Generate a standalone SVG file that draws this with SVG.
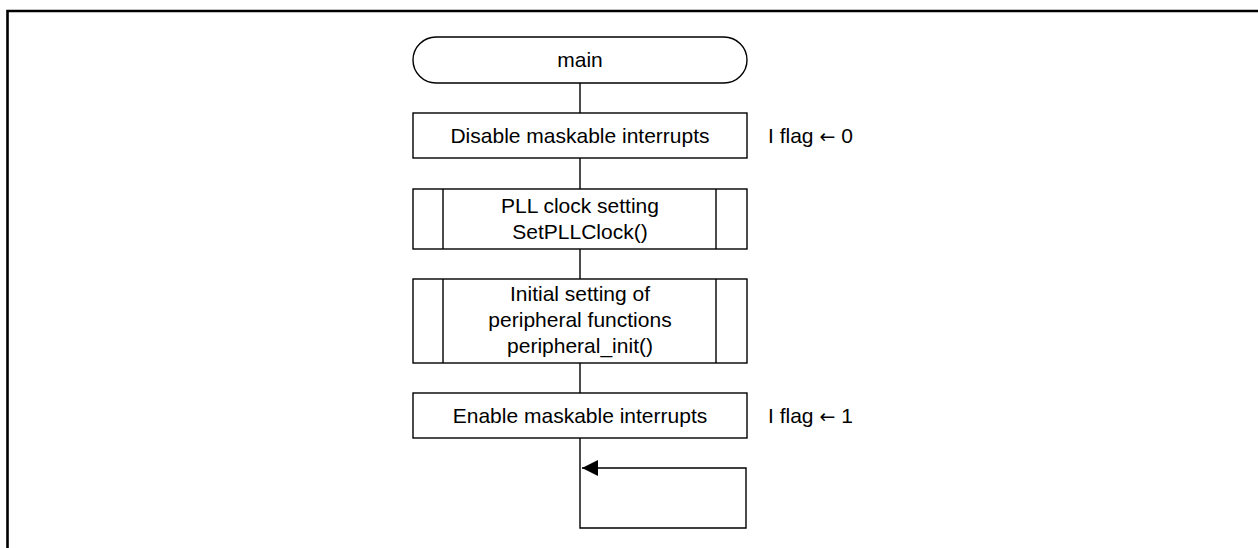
<svg xmlns="http://www.w3.org/2000/svg" width="1258" height="548" viewBox="0 0 1258 548">
<style>
.frame{fill:none;stroke:#000;stroke-width:2.6}
.box{fill:#fff;stroke:#000;stroke-width:1.4}
.ln{fill:none;stroke:#000;stroke-width:1.4}
text{font-family:"Liberation Sans",Arial,sans-serif;font-size:21px;fill:#000}
.c{text-anchor:middle}
.ar{font-family:"DejaVu Sans",sans-serif;font-size:19px}
</style>
<defs>
<marker id="arr" markerUnits="userSpaceOnUse" markerWidth="18" markerHeight="18" refX="16" refY="8" orient="auto">
<path d="M0,0 L16,8 L0,16 Z" fill="#000"/>
</marker>
</defs>
<rect width="1258" height="548" fill="#fff"/>
<path class="frame" d="M7.5,548 V11 H1258"/>
<g id="connectors">
<path class="ln" d="M580,83 V113"/>
<path class="ln" d="M580,158 V189"/>
<path class="ln" d="M580,249 V279"/>
<path class="ln" d="M580,363 V393"/>
<path class="ln" d="M580,438 V528 H746 V468 H582" marker-end="url(#arr)"/>
</g>
<g id="start">
<rect class="box" x="413" y="37" width="334" height="46" rx="23"/>
<text class="c" x="580" y="67">main</text>
</g>
<g id="disable">
<rect class="box" x="413" y="113" width="334" height="45"/>
<text class="c" x="580" y="143">Disable maskable interrupts</text>
<text x="768" y="143">I flag <tspan class="ar">←</tspan> 0</text>
</g>
<g id="pll">
<rect class="box" x="413" y="189" width="334" height="60"/>
<path class="ln" d="M443,189 V249 M716,189 V249"/>
<text class="c" x="580" y="213">PLL clock setting</text>
<text class="c" x="580" y="239">SetPLLClock()</text>
</g>
<g id="periph">
<rect class="box" x="413" y="279" width="334" height="84"/>
<path class="ln" d="M443,279 V363 M716,279 V363"/>
<text class="c" x="580" y="301">Initial setting of</text>
<text class="c" x="580" y="327">peripheral functions</text>
<text class="c" x="580" y="353">peripheral_init()</text>
</g>
<g id="enable">
<rect class="box" x="413" y="393" width="334" height="45"/>
<text class="c" x="580" y="423">Enable maskable interrupts</text>
<text x="768" y="423">I flag <tspan class="ar">←</tspan> 1</text>
</g>
</svg>
